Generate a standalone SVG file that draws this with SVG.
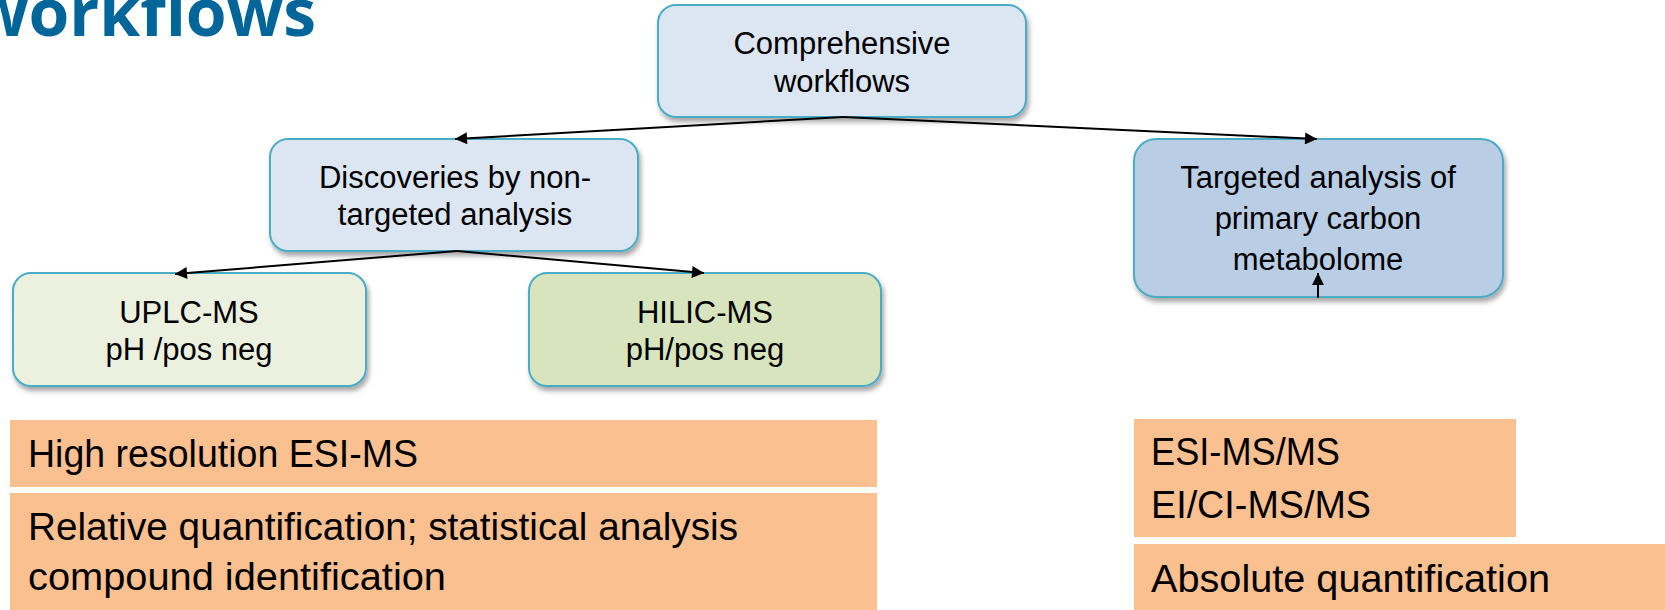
<svg xmlns="http://www.w3.org/2000/svg" width="1665" height="610" viewBox="0 0 1665 610">
<style>
.node{stroke:#4bacc6;stroke-width:2;filter:url(#sh)}
.nt{font-family:"Liberation Sans",Arial,sans-serif;font-size:31px;fill:#000;text-anchor:middle}
.ot{font-family:"Liberation Sans",Arial,sans-serif;font-size:38px;fill:#000}
.ob{fill:#fac090}
.conn{stroke:#000;stroke-width:2;fill:none;marker-end:url(#ah)}
</style>
<defs>
<filter id="sh" x="-10%" y="-10%" width="130%" height="140%">
<feDropShadow dx="2" dy="4" stdDeviation="2.5" flood-color="#000" flood-opacity="0.35"/>
</filter>
<marker id="ah" viewBox="0 0 10 10" refX="10" refY="5" markerWidth="7" markerHeight="6" orient="auto" markerUnits="strokeWidth">
<path d="M0,0 L10,5 L0,10 Z" fill="#000"/>
</marker>
</defs>
<rect width="1665" height="610" fill="#fff"/>
<text x="316" y="36" font-family="'Open Sans',sans-serif" font-weight="bold" font-size="66" fill="#006699" text-anchor="end">workflows</text>

<g id="n-comprehensive">
<rect class="node" x="658" y="5" width="368" height="112" rx="18" fill="#dce6f2"/>
<text class="nt" x="842" y="54">Comprehensive</text>
<text class="nt" x="842" y="92">workflows</text>
</g>
<g id="n-discoveries">
<rect class="node" x="270" y="139" width="368" height="112" rx="18" fill="#dce6f2"/>
<text class="nt" x="455" y="188">Discoveries by non-</text>
<text class="nt" x="455" y="225">targeted analysis</text>
</g>
<g id="n-targeted">
<rect class="node" x="1134" y="139" width="369" height="158" rx="22" fill="#b9cde5"/>
<text class="nt" x="1318" y="188">Targeted analysis of</text>
<text class="nt" x="1318" y="229">primary carbon</text>
<text class="nt" x="1318" y="270">metabolome</text>
</g>
<g id="n-uplc">
<rect class="node" x="13" y="273" width="353" height="113" rx="18" fill="#ebf1de"/>
<text class="nt" x="189" y="323">UPLC-MS</text>
<text class="nt" x="189" y="360">pH /pos neg</text>
</g>
<g id="n-hilic">
<rect class="node" x="529" y="273" width="352" height="113" rx="18" fill="#d7e4bd"/>
<text class="nt" x="705" y="323">HILIC-MS</text>
<text class="nt" x="705" y="360">pH/pos neg</text>
</g>

<g id="connectors">
<line class="conn" x1="843" y1="117" x2="455" y2="139"/>
<line class="conn" x1="843" y1="117" x2="1317" y2="139"/>
<line class="conn" x1="457" y1="251" x2="175" y2="274"/>
<line class="conn" x1="457" y1="251" x2="704" y2="273"/>
<line class="conn" x1="1318" y1="298" x2="1318" y2="273"/>
</g>

<g id="b-hires">
<rect class="ob" x="10" y="420" width="867" height="67"/>
<text class="ot" x="28" y="467" textLength="390" lengthAdjust="spacingAndGlyphs">High resolution ESI-MS</text>
</g>
<g id="b-relative">
<rect class="ob" x="10" y="493" width="867" height="117"/>
<text class="ot" x="28" y="540" textLength="710" lengthAdjust="spacingAndGlyphs">Relative quantification; statistical analysis</text>
<text class="ot" x="28" y="590" textLength="418" lengthAdjust="spacingAndGlyphs">compound identification</text>
</g>
<g id="b-esi">
<rect class="ob" x="1134" y="419" width="382" height="118"/>
<text class="ot" x="1151" y="465" textLength="189" lengthAdjust="spacingAndGlyphs">ESI-MS/MS</text>
<text class="ot" x="1151" y="518" textLength="220" lengthAdjust="spacingAndGlyphs">EI/CI-MS/MS</text>
</g>
<g id="b-absolute">
<rect class="ob" x="1134" y="544" width="531" height="66"/>
<text class="ot" x="1151" y="592" textLength="399" lengthAdjust="spacingAndGlyphs">Absolute quantification</text>
</g>
</svg>
